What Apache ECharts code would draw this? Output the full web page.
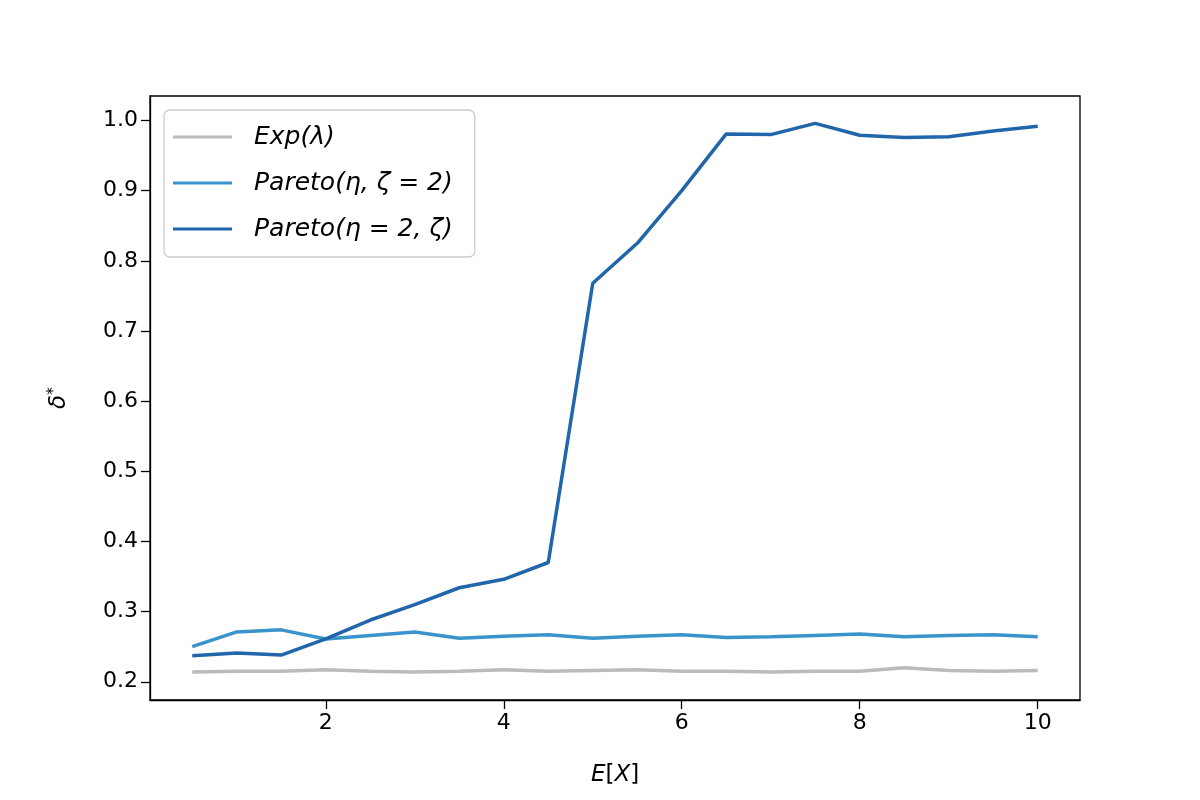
<!DOCTYPE html>
<html>
<head>
<meta charset="utf-8">
<script src="https://cdn.jsdelivr.net/npm/echarts@6/dist/echarts.min.js"></script>
<style>
  html, body { margin: 0; padding: 0; background: #fff; }
  #chart { width: 1200px; height: 800px; }
</style>
</head>
<body>
<div id="chart"></div>
<script>
// E[X] values
const xs = [0.5, 1, 1.5, 2, 2.5, 3, 3.5, 4, 4.5, 5, 5.5, 6, 6.5, 7, 7.5, 8, 8.5, 9, 9.5, 10];

// delta*
const expVals = [0.214, 0.215, 0.215, 0.217, 0.215, 0.214, 0.215, 0.217, 0.215, 0.216,
                 0.217, 0.215, 0.215, 0.214, 0.215, 0.215, 0.220, 0.216, 0.215, 0.216];
const paretoEta = [0.250, 0.271, 0.274, 0.261, 0.266, 0.271, 0.262, 0.265, 0.267, 0.262,
                   0.265, 0.267, 0.263, 0.264, 0.266, 0.268, 0.264, 0.266, 0.267, 0.264];
const paretoZeta = [0.237, 0.241, 0.238, 0.261, 0.288, 0.310, 0.334, 0.346, 0.370, 0.768,
                    0.825, 0.900, 0.981, 0.980, 0.996, 0.979, 0.976, 0.977, 0.985, 0.992];

const seriesNames = ['Exp(λ)', 'Pareto(η, ζ = 2)', 'Pareto(η = 2, ζ)'];
const xTicks = [2, 4, 6, 8, 10];
const yTicks = [0.2, 0.3, 0.4, 0.5, 0.6, 0.7, 0.8, 0.9, 1.0];

(function () {
    let myChart = echarts.init(document.getElementById('chart'));

    function pairs(vals) {
        return xs.map(function (x, i) { return [x, vals[i]]; });
    }

    let font = 'DejaVu Sans';
    let option = {
        animation: false,
        backgroundColor: '#fff',
        grid: {
            left: 150, top: 96, right: 120, bottom: 100,
            show: true,
            borderColor: '#000',
            borderWidth: 1.3
        },
        legend: {
            orient: 'vertical',
            left: 164, top: 110,
            padding: [13, 22, 14, 9],
            itemGap: 18,
            itemWidth: 59,
            itemHeight: 3,
            icon: 'rect',
            backgroundColor: '#fff',
            borderColor: '#cccccc',
            borderWidth: 1.3,
            borderRadius: 6,
            textStyle: {
                fontFamily: font, fontSize: 25, lineHeight: 28, fontStyle: 'italic', color: '#000',
                padding: [0, 0, 0, 17]
            },
            data: seriesNames
        },
        xAxis: {
            type: 'value',
            min: 0.025, max: 10.475,
            name: '{i|E}{u|[}{i|X}{u|]}',
            nameLocation: 'middle',
            nameGap: 64,
            nameTextStyle: {
                rich: {
                    i: { fontFamily: font, fontSize: 23, fontStyle: 'italic', color: '#000' },
                    u: { fontFamily: font, fontSize: 23, color: '#000' }
                }
            },
            axisLine: { show: true, lineStyle: { color: '#000', width: 1.3 } },
            axisTick: { show: true, length: 9, lineStyle: { color: '#000', width: 1.3 }, customValues: xTicks },
            axisLabel: { fontFamily: font, fontSize: 22, color: '#000', margin: 12, customValues: xTicks },
            splitLine: { show: false }
        },
        yAxis: {
            type: 'value',
            min: 0.174, max: 1.035,
            name: '{d|δ}{s|*}',
            nameLocation: 'middle',
            nameGap: 78,
            nameRotate: 90,
            nameTextStyle: {
                rich: {
                    d: { fontFamily: font, fontSize: 23, fontStyle: 'italic', color: '#000' },
                    s: { fontFamily: font, fontSize: 16, color: '#000', verticalAlign: 'top', padding: [0, 0, 10, 0] }
                }
            },
            axisLine: { show: true, lineStyle: { color: '#000', width: 1.3 } },
            axisTick: { show: true, length: 9, lineStyle: { color: '#000', width: 1.3 }, customValues: yTicks },
            axisLabel: {
                fontFamily: font, fontSize: 22, color: '#000', margin: 12, customValues: yTicks,
                formatter: function (v) { return v.toFixed(1); }
            },
            splitLine: { show: false }
        },
        series: [
            {
                name: seriesNames[0], type: 'line', showSymbol: false, symbol: 'none',
                lineStyle: { color: '#bbbbbb', width: 3.5 }, itemStyle: { color: '#bbbbbb' },
                data: pairs(expVals)
            },
            {
                name: seriesNames[1], type: 'line', showSymbol: false, symbol: 'none',
                lineStyle: { color: '#3a94cb', width: 3.5 }, itemStyle: { color: '#3a94cb' },
                data: pairs(paretoEta)
            },
            {
                name: seriesNames[2], type: 'line', showSymbol: false, symbol: 'none',
                lineStyle: { color: '#2166ab', width: 3.5 }, itemStyle: { color: '#2166ab' },
                data: pairs(paretoZeta)
            }
        ]
    };

    myChart.setOption(option);
})();
</script>
</body>
</html>
